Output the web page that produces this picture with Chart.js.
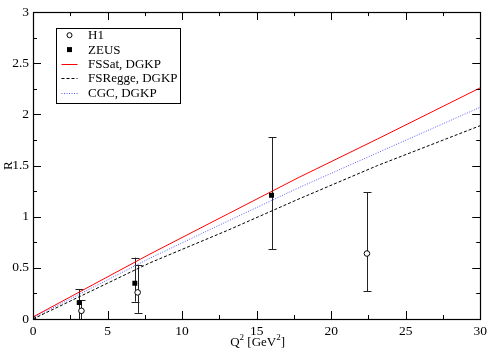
<!DOCTYPE html>
<html>
<head>
<meta charset="utf-8">
<script src="https://cdn.jsdelivr.net/npm/chart.js@4.4.1/dist/chart.umd.min.js"></script>
<style>
  html, body { margin: 0; padding: 0; background: #fff; }
  #wrap { width: 491px; height: 355px; }
</style>
</head>
<body>
<div id="wrap"><canvas id="c" width="491" height="355"></canvas></div>
<script>
// --- Data ---
const fsSatX   = [0, 7.78, 13.11, 17.78, 23.11, 30];
const fsSatY   = [0.02, 0.63, 1.03, 1.38, 1.76, 2.26];
const fsReggeX = [0, 7.78, 13.11, 17.78, 23.11, 30];
const fsReggeY = [0, 0.545, 0.87, 1.17, 1.50, 1.89];
const cgcX     = [0, 7.78, 13.11, 17.78, 23.11, 30];
const cgcY     = [0.01, 0.59, 0.96, 1.28, 1.625, 2.07];

const h1X  = [0, 3.25, 7.02, 22.4];
const h1Y  = [0, 0.08, 0.26, 0.64];
const h1Lo = [0, -0.05, 0.06, 0.27];
const h1Hi = [0, 0.185, 0.53, 1.24];

const zeusX  = [3.1, 6.83, 16.0];
const zeusY  = [0.16, 0.35, 1.21];
const zeusLo = [-0.05, 0.17, 0.68];
const zeusHi = [0.29, 0.60, 1.775];

const xMajor = 5, xMinor = 2.5;
const yMajor = 0.5, yMinor = 0.25;

const FONT = '"Liberation Serif", "DejaVu Serif", serif';

function pts(xs, ys) { return xs.map((x, i) => ({ x: x, y: ys[i] })); }
function fmt(v) { return String(+Number(v).toFixed(2)); }

// --- Plugins ---
const frameAndTicks = {
  id: 'frameAndTicks',
  afterDraw(chart) {
    const { ctx, chartArea: a, scales } = chart;
    const xs = scales.x, ys = scales.y;
    ctx.save();
    ctx.strokeStyle = '#000';
    ctx.lineWidth = 1;
    ctx.beginPath();
    for (let v = xs.min; v <= xs.max + 1e-9; v += xMinor) {
      const px = Math.round(xs.getPixelForValue(v)) + 0.5;
      const len = Math.abs(v / xMajor - Math.round(v / xMajor)) < 1e-6 ? 8 : 4;
      ctx.moveTo(px, a.bottom); ctx.lineTo(px, a.bottom - len);
      ctx.moveTo(px, a.top); ctx.lineTo(px, a.top + len);
    }
    for (let v = ys.min; v <= ys.max + 1e-9; v += yMinor) {
      const py = Math.round(ys.getPixelForValue(v)) + 0.5;
      const len = Math.abs(v / yMajor - Math.round(v / yMajor)) < 1e-6 ? 8 : 4;
      ctx.moveTo(a.left, py); ctx.lineTo(a.left + len, py);
      ctx.moveTo(a.right, py); ctx.lineTo(a.right - len, py);
    }
    ctx.stroke();
    ctx.lineWidth = 1.2;
    ctx.strokeRect(Math.round(a.left) + 0.5, Math.round(a.top) + 0.5,
      Math.round(a.right - a.left), Math.round(a.bottom - a.top));

    // axis titles
    ctx.fillStyle = '#000';
    ctx.textBaseline = 'middle';
    ctx.textAlign = 'left';
    const cx = (a.left + a.right) / 2;
    const parts = [['Q', 13, 0], ['2', 9, -5], [' [GeV', 13, 0], ['2', 9, -5], [']', 13, 0]];
    let w = 0;
    parts.forEach(p => { ctx.font = p[1] + 'px ' + FONT; w += ctx.measureText(p[0]).width; });
    let x = cx - w / 2 + 1;
    parts.forEach(p => {
      ctx.font = p[1] + 'px ' + FONT;
      ctx.fillText(p[0], x, 343 + p[2]);
      x += ctx.measureText(p[0]).width;
    });
    ctx.save();
    ctx.translate(9, (a.top + a.bottom) / 2);
    ctx.rotate(-Math.PI / 2);
    ctx.textAlign = 'center';
    ctx.font = '13px ' + FONT;
    ctx.fillText('R', 0, 0);
    ctx.restore();

    // legend
    const bx = 56, by = 28, bw = 124, bh = 75;
    ctx.fillStyle = '#fff';
    ctx.fillRect(bx, by, bw, bh);
    ctx.lineWidth = 1;
    ctx.strokeStyle = '#000';
    ctx.strokeRect(bx + 0.5, by + 0.5, bw, bh);
    const entries = [
      { label: 'H1', kind: 'circle' },
      { label: 'ZEUS', kind: 'square' },
      { label: 'FSSat, DGKP', kind: 'line', color: '#ff0000', dash: [] },
      { label: 'FSRegge, DGKP', kind: 'line', color: '#000', dash: [3, 2] },
      { label: 'CGC, DGKP', kind: 'line', color: '#5a5aff', dash: [1, 1.5] }
    ];
    const mx = 69.5;
    entries.forEach((e, i) => {
      const ey = 35.2 + i * 14.4;
      ctx.save();
      if (e.kind === 'circle') {
        ctx.beginPath(); ctx.arc(mx, ey, 2.5, 0, Math.PI * 2);
        ctx.fillStyle = '#fff'; ctx.fill();
        ctx.strokeStyle = '#000'; ctx.lineWidth = 1; ctx.stroke();
      } else if (e.kind === 'square') {
        ctx.fillStyle = '#000'; ctx.fillRect(mx - 2.5, ey - 2.5, 5, 5);
      } else {
        ctx.strokeStyle = e.color; ctx.lineWidth = 1; ctx.setLineDash(e.dash);
        ctx.beginPath(); ctx.moveTo(mx - 8, Math.round(ey) + 0.5); ctx.lineTo(mx + 8, Math.round(ey) + 0.5); ctx.stroke();
      }
      ctx.restore();
      ctx.fillStyle = '#000';
      ctx.font = '13px ' + FONT;
      ctx.textAlign = 'left';
      ctx.textBaseline = 'middle';
      ctx.fillText(e.label, 88, ey + 0.5);
    });
    ctx.restore();
  }
};

const errorBars = {
  id: 'errorBars',
  beforeDatasetsDraw(chart) {
    const { ctx, chartArea: a, scales } = chart;
    ctx.save();
    ctx.beginPath();
    ctx.rect(a.left, a.top, a.right - a.left, a.bottom - a.top);
    ctx.clip();
    ctx.strokeStyle = '#222';
    ctx.lineWidth = 1;
    const draw = (xs, lo, hi) => {
      xs.forEach((xv, i) => {
        if (lo[i] === hi[i]) return;
        const px = Math.round(scales.x.getPixelForValue(xv)) + 0.5;
        const p1 = scales.y.getPixelForValue(lo[i]);
        const p2 = scales.y.getPixelForValue(hi[i]);
        ctx.beginPath();
        ctx.moveTo(px, p1); ctx.lineTo(px, p2);
        ctx.moveTo(px - 4, Math.round(p1) + 0.5); ctx.lineTo(px + 4, Math.round(p1) + 0.5);
        ctx.moveTo(px - 4, Math.round(p2) + 0.5); ctx.lineTo(px + 4, Math.round(p2) + 0.5);
        ctx.stroke();
      });
    };
    draw(h1X, h1Lo, h1Hi);
    draw(zeusX, zeusLo, zeusHi);
    ctx.restore();
  }
};

// --- Chart ---
const chart = new Chart(document.getElementById('c').getContext('2d'), {
  type: 'scatter',
  data: {
    datasets: [
      { label: 'FSSat, DGKP', data: pts(fsSatX, fsSatY), showLine: true, borderColor: '#ff0000', borderWidth: 1, pointRadius: 0, fill: false },
      { label: 'FSRegge, DGKP', data: pts(fsReggeX, fsReggeY), showLine: true, borderColor: '#000', borderWidth: 1, borderDash: [3, 2], pointRadius: 0, fill: false },
      { label: 'CGC, DGKP', data: pts(cgcX, cgcY), showLine: true, borderColor: '#5a5aff', borderWidth: 1, borderDash: [1, 1.5], pointRadius: 0, fill: false },
      { label: 'H1', data: pts(h1X, h1Y), pointStyle: 'circle', pointRadius: 2.8, borderColor: '#000', backgroundColor: '#fff', borderWidth: 1 },
      { label: 'ZEUS', data: pts(zeusX, zeusY), pointStyle: 'rect', pointRadius: 3.5, borderColor: '#000', backgroundColor: '#000', borderWidth: 0 }
    ]
  },
  options: {
    responsive: false,
    animation: false,
    devicePixelRatio: 1,
    layout: { padding: { top: 5, right: 8, left: 0, bottom: 0 } },
    plugins: { legend: { display: false }, tooltip: { enabled: false } },
    elements: { line: { tension: 0 } },
    scales: {
      x: {
        type: 'linear', min: 0, max: 30,
        grid: { display: false, drawTicks: false },
        border: { display: false },
        ticks: { stepSize: xMajor, color: '#000', padding: 4, font: { family: FONT, size: 13.5 }, callback: fmt },
        afterFit(s) { s.height = 36; }
      },
      y: {
        type: 'linear', min: 0, max: 3,
        grid: { display: false, drawTicks: false },
        border: { display: false },
        ticks: { stepSize: yMajor, color: '#000', padding: 4, font: { family: FONT, size: 13.5 }, callback: fmt },
        afterFit(s) { s.width = 33; }
      }
    }
  },
  plugins: [errorBars, frameAndTicks]
});
</script>
</body>
</html>
